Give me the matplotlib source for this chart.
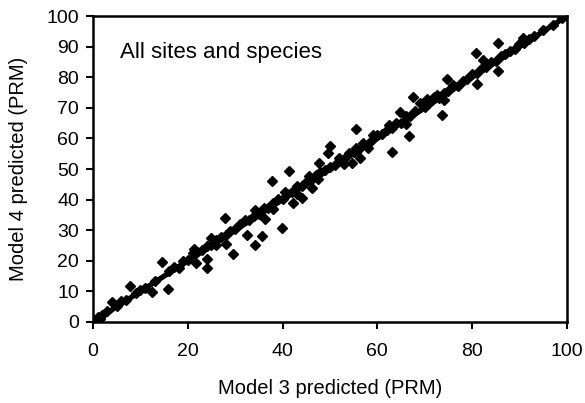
"""Model 4 vs Model 3 predicted PRM, all sites and species."""

import matplotlib
matplotlib.use("Agg")
import matplotlib.pyplot as plt

plt.rcParams["font.family"] = ["Liberation Sans", "DejaVu Sans"]

# points sitting close to the 1:1 line
near_x = [0.5, 1, 1.5, 2, 3, 5, 6, 7, 9, 10, 11, 13, 16, 17, 19, 20, 21, 22,
          23, 24, 25, 26, 26, 27, 28, 29, 30, 31, 32, 33, 34, 35, 36, 37, 38,
          38, 39, 40, 40.5, 41, 42, 43, 43, 44, 45, 45.5, 46, 47, 47.5, 48, 49,
          50, 51, 52, 53, 53, 54, 55, 55.5, 56, 57, 58, 58, 59, 60, 61, 62,
          62.5, 63, 64, 65, 66, 66, 67, 68, 69, 70, 70.5, 71, 72, 72.5, 73, 74,
          74, 75, 76, 77, 78, 79, 80, 81, 82, 83, 84, 85, 86, 87, 88, 89, 90,
          91, 92, 93, 95, 97, 99, 100]
near_y = [0.8, 1.5, 1.0, 2.4, 3.5, 5.2, 6.8, 7.3, 9.5, 10.6, 11.2, 13.5, 16.6,
          17.9, 19.8, 20.4, 22.5, 22.8, 23.4, 24.9, 25.3, 26.8, 25.1, 27.9,
          28.3, 29.8, 30.4, 31.9, 33.2, 33.5, 34.8, 35.2, 37.4, 37.3, 38.9,
          36.8, 40.2, 40.3, 42.5, 41.8, 42.4, 44.6, 41.8, 44.3, 45.9, 47.8,
          46.3, 48.2, 46.8, 48.9, 49.6, 50.8, 51.2, 53.5, 53.2, 51.6, 55.1,
          55.6, 57.0, 56.2, 58.6, 58.3, 56.9, 59.9, 61.2, 61.3, 62.8, 64.5,
          63.3, 64.9, 65.2, 67.3, 64.8, 67.5, 68.9, 71.5, 70.4, 72.8, 71.6,
          73.4, 74.3, 73.2, 74.8, 72.5, 75.5, 77.6, 77.3, 78.9, 79.4, 81.2,
          81.5, 82.9, 83.3, 85.1, 85.4, 86.9, 87.5, 88.6, 89.4, 90.8, 91.3,
          92.6, 93.4, 95.3, 97.2, 99.3, 100]

# scattered points further from the line
off_x = [4.1, 7.9, 12.5, 14.5, 15.9, 18.2, 21.7, 24.0, 24.0, 21.4, 25.0, 27.8,
         28.1, 29.5, 32.4, 34.2, 35.7, 34.2, 36.3, 37.8, 39.8, 41.4, 42.3,
         44.0, 46.3, 47.7, 49.5, 50.1, 54.6, 56.3, 55.6, 59.1, 63.2, 64.8,
         66.7, 67.6, 73.6, 74.6, 81.1, 80.8, 82.3, 85.5, 85.5, 90.8]
off_y = [6.6, 11.9, 9.9, 19.7, 10.7, 17.5, 19.4, 20.6, 17.5, 23.8, 27.6, 33.9,
         25.4, 22.2, 28.4, 25.2, 28.1, 36.6, 33.6, 46.1, 30.6, 49.4, 38.8,
         40.7, 43.7, 52.1, 55.3, 57.6, 51.9, 53.5, 63.0, 61.1, 55.7, 68.5,
         60.8, 73.4, 67.6, 79.4, 77.7, 87.8, 85.8, 91.3, 82.0, 93.0]

fig = plt.figure(figsize=(5.85, 4.03), dpi=100)
ax = fig.add_axes([0.159, 0.201, 0.81, 0.759])

ax.plot([0, 100], [0, 100], color="black", linewidth=3.8, zorder=2)
ax.plot(near_x, near_y, "D", color="black", markersize=4.6, zorder=3)
ax.plot(off_x, off_y, "D", color="black", markersize=4.6, zorder=3)

ax.set_xlim(0, 100)
ax.set_ylim(0, 100)
ax.set_xticks(range(0, 101, 20))
ax.set_yticks(range(0, 101, 10))
ax.tick_params(direction="out", length=5, width=1.5, labelsize=14, pad=5)
ax.tick_params(axis="x", pad=10)
for sp in ax.spines.values():
    sp.set_linewidth(1.8)

ax.set_xlabel("Model 3 predicted (PRM)", fontsize=14.5, labelpad=14)
ax.set_ylabel("Model 4 predicted (PRM)", fontsize=14.5, labelpad=13)
ax.text(5.7, 88.2, "All sites and species", fontsize=16, va="center", ha="left")

fig.savefig("out.png", dpi=100)
